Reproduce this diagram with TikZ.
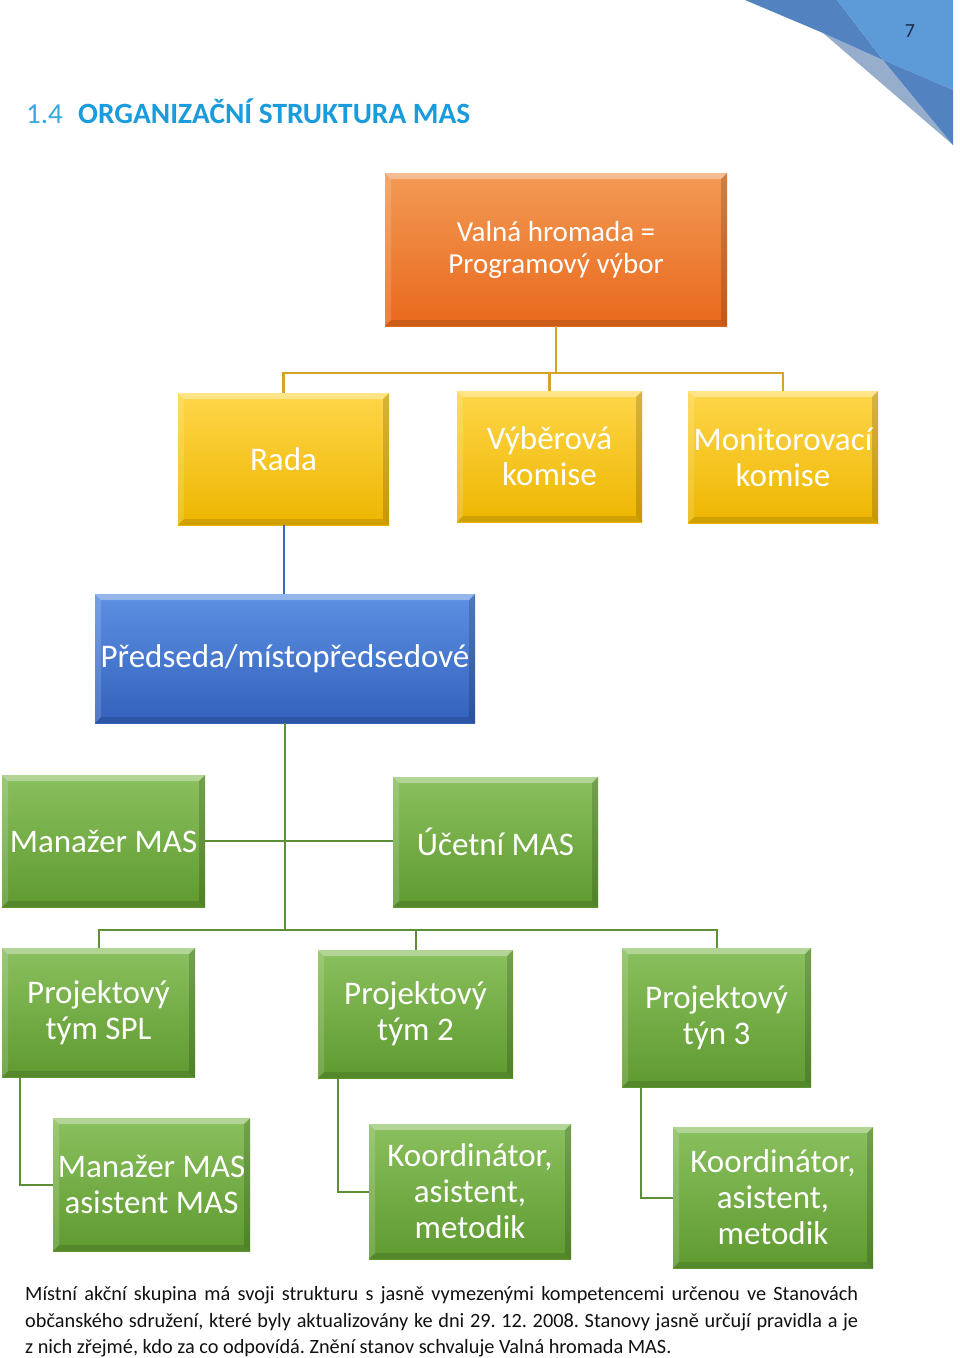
\documentclass[tikz,border=0pt]{standalone}
\usepackage{fontspec}
\setmainfont{Carlito}
\definecolor{orT}{HTML}{F39A55}
\definecolor{orB}{HTML}{E8691C}
\definecolor{yeT}{HTML}{FFD64A}
\definecolor{yeB}{HTML}{EDB600}
\definecolor{blT}{HTML}{5C90E2}
\definecolor{blB}{HTML}{3361BC}
\definecolor{grT}{HTML}{8AC05E}
\definecolor{grB}{HTML}{5F9A30}
\definecolor{lnGold}{HTML}{D4A32A}
\definecolor{lnBlue}{HTML}{3A66C4}
\definecolor{lnGreen}{HTML}{5E8E35}
\definecolor{cornDark}{HTML}{5283C0}
\definecolor{cornLight}{HTML}{5C9BD8}
\definecolor{cornGrey}{HTML}{96AECB}
\definecolor{titleBlue}{HTML}{1A9BDB}
\definecolor{titleLight}{HTML}{35A8E0}
\definecolor{pageNavy}{HTML}{1F2A4A}
\definecolor{paraText}{HTML}{111111}
\tikzset{
  bevel/.style={path picture={
    \path (path picture bounding box.north west) coordinate (pNW)
          (path picture bounding box.north east) coordinate (pNE)
          (path picture bounding box.south west) coordinate (pSW)
          (path picture bounding box.south east) coordinate (pSE);
    \fill[white,opacity=0.35] (pNW) -- (pNE) -- ([shift={(-6pt,-6pt)}]pNE) -- ([shift={(6pt,-6pt)}]pNW) -- cycle;
    \fill[white,opacity=0.15] (pNW) -- ([shift={(6pt,-6pt)}]pNW) -- ([shift={(6pt,6pt)}]pSW) -- (pSW) -- cycle;
    \fill[black,opacity=0.16] (pNE) -- (pSE) -- ([shift={(-6pt,6pt)}]pSE) -- ([shift={(-6pt,-6pt)}]pNE) -- cycle;
    \fill[black,opacity=0.12] (pSW) -- (pSE) -- ([shift={(-6pt,6pt)}]pSE) -- ([shift={(6pt,6pt)}]pSW) -- cycle;
  }},
  orgbox/.style={inner sep=0pt, align=center, text=white, bevel,
    font=\fontsize{33}{36}\selectfont},
  orangebox/.style={orgbox, top color=orT, bottom color=orB, font=\fontsize{29}{32}\selectfont},
  yellowbox/.style={orgbox, top color=yeT, bottom color=yeB},
  bluebox/.style={orgbox, top color=blT, bottom color=blB},
  greenbox/.style={orgbox, top color=grT, bottom color=grB},
  goldline/.style={draw=lnGold, line width=2.5pt},
  blueline/.style={draw=lnBlue, line width=2pt},
  greenline/.style={draw=lnGreen, line width=2pt},
  paraline/.style={anchor=base west, inner sep=0pt, text=paraText,
    font=\fontsize{20.3}{26.5}\selectfont\frenchspacing},
}
\begin{document}
\begin{tikzpicture}[x=1pt,y=-1pt]
\fill[white] (0,0) rectangle (960,1358);
\useasboundingbox (0,0) rectangle (960,1358);

% corner decoration
\fill[cornGrey] (823,33) -- (883,60) -- (953,145) -- cycle;
\fill[cornDark] (745,0) -- (837,0) -- (883,60) -- (823,33) -- cycle;
\fill[cornLight] (837,0) -- (953,0) -- (953,90) -- (883,60) -- cycle;
\fill[cornDark] (883,60) -- (953,90) -- (953,145) -- cycle;
\node[anchor=base, inner sep=0pt, text=pageNavy, font=\fontsize{20}{22}\selectfont] (pg) at (910,37) {7};

% title
\node[anchor=base west, inner sep=0pt, text=titleLight, font=\fontsize{29}{34}\selectfont] (tnum) at (26,123) {1.4};
\node[anchor=base west, inner sep=0pt, text=titleBlue, font=\fontsize{29.4}{34}\selectfont\bfseries] (ttl) at (78,123) {ORGANIZAČNÍ STRUKTURA MAS};

% boxes
\node[orangebox, minimum width=342pt, minimum height=153pt] (valna) at (556,249.5) {Valná hromada =\\Programový výbor};
\node[yellowbox, minimum width=211pt, minimum height=132pt] (rada) at (283.5,459) {Rada};
\node[yellowbox, minimum width=185pt, minimum height=131pt] (vyber) at (549.5,456.5) {Výběrová\\komise};
\node[yellowbox, minimum width=190pt, minimum height=132pt] (monit) at (783,457) {Monitorovací\\komise};
\node[bluebox, minimum width=380pt, minimum height=129pt] (pred) at (285,658.5) {Předseda/místopředsedové};
\node[greenbox, minimum width=203pt, minimum height=132pt] (man) at (103.5,841) {Manažer MAS};
\node[greenbox, minimum width=205pt, minimum height=130pt] (ucet) at (495.5,842) {Účetní MAS};
\node[greenbox, minimum width=193pt, minimum height=129pt] (p1) at (98.5,1012.5) {Projektový\\tým SPL};
\node[greenbox, minimum width=195pt, minimum height=128pt] (p2) at (415.5,1014) {Projektový\\tým 2};
\node[greenbox, minimum width=189pt, minimum height=139pt] (p3) at (716.5,1017.5) {Projektový\\týn 3};
\node[greenbox, minimum width=197pt, minimum height=133pt] (s1) at (151.5,1184.5) {Manažer MAS\\asistent MAS};
\node[greenbox, minimum width=202pt, minimum height=135pt] (s2) at (470,1191.5) {Koordinátor,\\asistent,\\metodik};
\node[greenbox, minimum width=200pt, minimum height=141pt] (s3) at (773,1197.5) {Koordinátor,\\asistent,\\metodik};

% connectors
\draw[goldline] (valna.south) -- ++(0,47) coordinate (gbus);
\draw[goldline] (rada.north) |- (gbus) -| (monit.north);
\draw[goldline] (vyber.north) -- (vyber.north |- gbus);
\draw[blueline] (rada.south) -- (rada.south |- pred.north);
\draw[greenline] (pred.south) -- ++(0,207) coordinate (gbus2);
\draw[greenline] (man.east) -- (man.east -| ucet.west);
\draw[greenline] (p1.north) |- (gbus2) -| (p3.north);
\draw[greenline] (p2.north) -- (p2.north |- gbus2);
\draw[greenline] ([xshift=18pt]p1.south west) |- (s1.west);
\draw[greenline] ([xshift=20pt]p2.south west) |- (s2.west);
\draw[greenline] ([xshift=19pt]p3.south west) |- (s3.west);

% paragraph
\node[paraline] (l1) at (25,1300) {\makebox[833pt][s]{Místní akční skupina má svoji strukturu s jasně vymezenými kompetencemi určenou ve Stanovách}};
\node[paraline] (l2) at (25,1327) {\makebox[833pt][s]{občanského sdružení, které byly aktualizovány ke dni 29. 12. 2008. Stanovy jasně určují pravidla a je}};
\node[paraline] (l3) at (25,1353) {z nich zřejmé, kdo za co odpovídá. Znění stanov schvaluje Valná hromada MAS.};
\end{tikzpicture}
\end{document}
